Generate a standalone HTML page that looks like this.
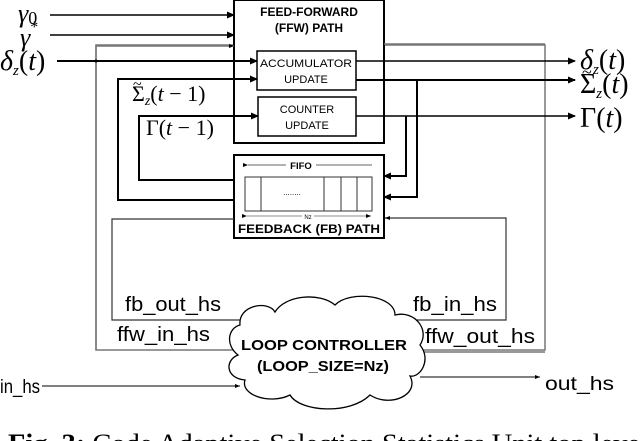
<!DOCTYPE html>
<html><head><meta charset="utf-8"><style>
html,body{margin:0;padding:0;background:#fff;}
svg{display:block;}
.s{font-family:"Liberation Sans",sans-serif;}
.m{font-family:"Liberation Serif",serif;}
</style></head><body>
<svg width="640" height="441" viewBox="0 0 640 441" xmlns="http://www.w3.org/2000/svg">
<defs>
<marker id="a" markerWidth="8" markerHeight="8" refX="7" refY="4" orient="auto" markerUnits="userSpaceOnUse"><path d="M0,0.5 L8,4 L0,7.5 z" fill="#000"/></marker>
<marker id="b" markerWidth="5" markerHeight="5" refX="5" refY="2.5" orient="auto" markerUnits="userSpaceOnUse"><path d="M0,0.5 L5,2.5 L0,4.5 z" fill="#000"/></marker>
</defs>
<rect x="96" y="45" width="449" height="305" fill="none" stroke="#777" stroke-width="1.5"/>
<rect x="234" y="0" width="150" height="143" fill="#fff" stroke="#000" stroke-width="2"/>
<text x="309" y="16" class="s" font-size="12" font-weight="bold" text-anchor="middle">FEED-FORWARD</text>
<text x="309" y="32" class="s" font-size="12" font-weight="bold" text-anchor="middle">(FFW) PATH</text>
<rect x="257" y="51" width="99" height="39" fill="#fff" stroke="#000" stroke-width="1.5"/>
<text x="306" y="67" class="s" font-size="11" text-anchor="middle" textLength="92" lengthAdjust="spacingAndGlyphs">ACCUMULATOR</text>
<text x="306" y="83" class="s" font-size="11" text-anchor="middle">UPDATE</text>
<rect x="258" y="97" width="98" height="39" fill="#fff" stroke="#000" stroke-width="1.5"/>
<text x="307" y="113" class="s" font-size="11" text-anchor="middle">COUNTER</text>
<text x="307" y="129" class="s" font-size="11" text-anchor="middle">UPDATE</text>
<rect x="234" y="155" width="150" height="83" fill="#fff" stroke="#000" stroke-width="2"/>
<line x1="248" y1="165" x2="372" y2="165" stroke="#666" stroke-width="1" marker-start="url(#b)"/>
<rect x="286" y="159" width="30" height="12" fill="#fff"/>
<text x="301" y="169" class="s" font-size="9.5" font-weight="bold" text-anchor="middle">FIFO</text>
<rect x="245" y="177" width="127" height="34" fill="#fff" stroke="#333" stroke-width="1"/>
<line x1="261" y1="177" x2="261" y2="211" stroke="#333"/>
<line x1="324" y1="177" x2="324" y2="211" stroke="#333"/>
<line x1="341" y1="177" x2="341" y2="211" stroke="#333"/>
<line x1="357" y1="177" x2="357" y2="211" stroke="#333"/>
<text x="292" y="195" class="s" font-size="8" text-anchor="middle">........</text>
<line x1="247" y1="216" x2="371" y2="216" stroke="#666" stroke-width="0.8" marker-start="url(#b)" marker-end="url(#b)"/>
<rect x="302" y="213" width="12" height="6" fill="#fff"/>
<text x="308" y="219" class="s" font-size="6" text-anchor="middle">Nz</text>
<text x="309" y="233" class="s" font-size="11.5" font-weight="bold" text-anchor="middle" textLength="142" lengthAdjust="spacingAndGlyphs">FEEDBACK (FB) PATH</text>
<line x1="50" y1="15" x2="234" y2="15" stroke="#000" stroke-width="1.5" marker-end="url(#a)"/>
<line x1="50" y1="35" x2="234" y2="35" stroke="#000" stroke-width="1.5" marker-end="url(#a)"/>
<polyline points="96,350 96,46 234,46" fill="none" stroke="#777" stroke-width="1.5" marker-end="url(#b)"/>
<line x1="57" y1="61" x2="257" y2="61" stroke="#000" stroke-width="2" marker-end="url(#a)"/>
<circle cx="96" cy="61" r="1.5" fill="#000"/>
<polyline points="234,200 118,200 118,79 257,79" fill="none" stroke="#000" stroke-width="2" marker-end="url(#a)"/>
<polyline points="234,180 139,180 139,116 258,116" fill="none" stroke="#000" stroke-width="2" marker-end="url(#a)"/>
<text x="132" y="101" class="m" font-size="22">Σ<tspan font-size="14" font-style="italic" dy="4">z</tspan><tspan dy="-4">(</tspan><tspan font-style="italic">t</tspan> − 1)</text>
<text x="133" y="89" class="m" font-size="16">~</text>
<text x="146" y="135" class="m" font-size="22">Γ(<tspan font-style="italic">t</tspan> − 1)</text>
<text x="18" y="22" class="m" font-size="26" font-style="italic">γ<tspan font-style="normal" font-size="18" dy="2">0</tspan></text>
<text x="20" y="46" class="m" font-size="26" font-style="italic">γ<tspan font-style="normal" font-size="16" dy="-14">*</tspan></text>
<text x="0" y="70" class="m" font-size="28"><tspan font-style="italic">δ</tspan><tspan font-size="15" font-style="italic" dy="5">z</tspan><tspan dy="-5">(</tspan><tspan font-style="italic">t</tspan>)</text>
<polyline points="384,44 545,44" fill="none" stroke="#777" stroke-width="1.5"/>
<line x1="356" y1="61" x2="575" y2="61" stroke="#000" stroke-width="1.5" marker-end="url(#a)"/>
<line x1="356" y1="80" x2="575" y2="80" stroke="#000" stroke-width="2" marker-end="url(#a)"/>
<line x1="356" y1="116" x2="575" y2="116" stroke="#000" stroke-width="1.5" marker-end="url(#a)"/>
<polyline points="417,80 417,197 384,197" fill="none" stroke="#000" stroke-width="2" marker-end="url(#a)"/>
<polyline points="406,116 406,176 384,176" fill="none" stroke="#000" stroke-width="2" marker-end="url(#a)"/>
<text x="580" y="69" class="m" font-size="28"><tspan font-style="italic">δ</tspan><tspan font-size="15" font-style="italic" dy="5">z</tspan><tspan dy="-5">(</tspan><tspan font-style="italic">t</tspan>)</text>
<text x="580" y="93" class="m" font-size="28">Σ<tspan font-size="15" font-style="italic" dy="5">z</tspan><tspan dy="-5">(</tspan><tspan font-style="italic">t</tspan>)</text>
<text x="582" y="78" class="m" font-size="18">~</text>
<text x="580" y="127" class="m" font-size="28">Γ(<tspan font-style="italic">t</tspan>)</text>
<polyline points="234,219 112,219 112,320 267,320" fill="none" stroke="#333" stroke-width="1.2" marker-end="url(#b)"/>
<polyline points="408,320 506,320 506,218 385,218" fill="none" stroke="#333" stroke-width="1.2" marker-end="url(#b)"/>
<line x1="545" y1="352" x2="409" y2="352" stroke="#777" stroke-width="1.5" marker-end="url(#b)"/>
<path d="M240,325 C238,305 268,300 275,312 C285,295 320,292 335,305 C350,290 395,295 395,315 C415,310 430,330 420,345 C432,360 420,378 410,376 C420,395 390,408 370,395 C350,415 300,412 290,395 C270,405 240,395 245,380 C225,378 225,360 238,355 C225,345 228,328 240,325 Z" fill="#fff" stroke="#000" stroke-width="1.3"/>
<text x="324" y="350" class="s" font-size="15" font-weight="bold" text-anchor="middle" textLength="166" lengthAdjust="spacingAndGlyphs">LOOP CONTROLLER</text>
<text x="323" y="371" class="s" font-size="15" font-weight="bold" text-anchor="middle" textLength="132" lengthAdjust="spacingAndGlyphs">(LOOP_SIZE=Nz)</text>
<line x1="42" y1="386" x2="240" y2="386" stroke="#000" stroke-width="1" marker-end="url(#b)"/>
<line x1="420" y1="377" x2="540" y2="377" stroke="#000" stroke-width="1" marker-end="url(#b)"/>
<text x="0" y="393" class="s" font-size="19" textLength="40" lengthAdjust="spacingAndGlyphs">in_hs</text>
<text x="545" y="390" class="s" font-size="19" textLength="69" lengthAdjust="spacingAndGlyphs">out_hs</text>
<text x="125" y="311" class="s" font-size="20" textLength="96" lengthAdjust="spacingAndGlyphs">fb_out_hs</text>
<text x="413" y="311" class="s" font-size="20" textLength="84" lengthAdjust="spacingAndGlyphs">fb_in_hs</text>
<text x="117" y="341" class="s" font-size="20" textLength="93" lengthAdjust="spacingAndGlyphs">ffw_in_hs</text>
<text x="425" y="343" class="s" font-size="20" textLength="110" lengthAdjust="spacingAndGlyphs">ffw_out_hs</text>
<text x="8" y="452" class="m" font-size="26" textLength="640" lengthAdjust="spacingAndGlyphs"><tspan font-weight="bold">Fig. 3:</tspan> Code Adaptive Selection Statistics Unit top level</text>
</svg>
</body></html>
